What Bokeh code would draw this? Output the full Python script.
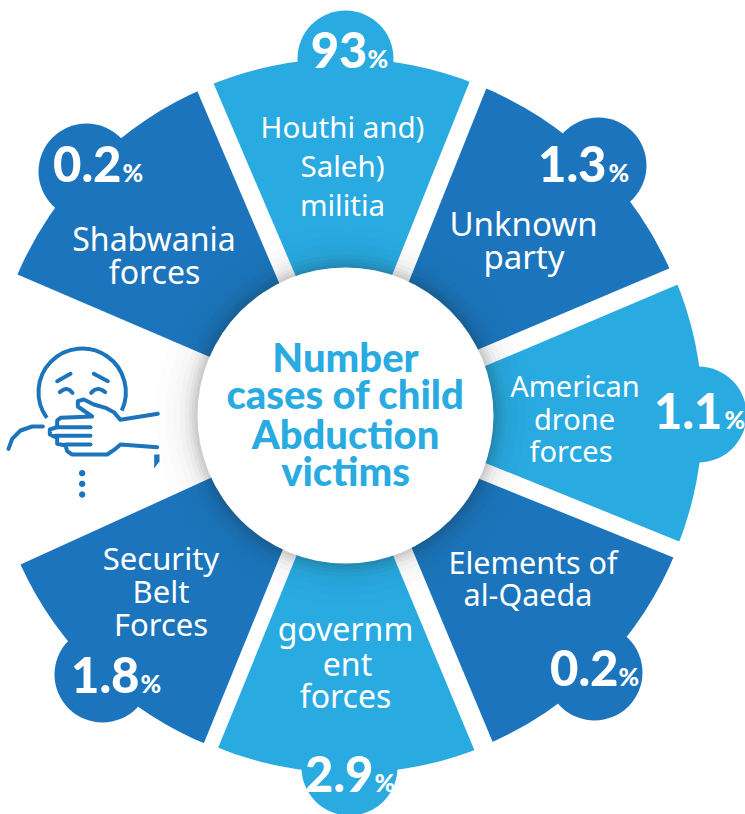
import numpy as np
from bokeh.plotting import figure
from bokeh.models import Range1d
from bokeh.core.properties import value
from bokeh.embed import file_html
from bokeh.resources import INLINE

# ---- data ----
categories = [["Houthi and)", "Saleh)", "militia"], ["Unknown", "party"], ["American", "drone", "forces"],
              ["Elements of", "al-Qaeda"], ["governm", "ent", "forces"], ["Security", "Belt", "Forces"],
              ["Shabwania", "forces"]]
percent_values = ["93", "1.3", "1.1", "0.2", "2.9", "1.8", "0.2"]
title_lines = ["Number", "cases of child", "Abduction", "victims"]

# ---- layout (reference pixels, y measured downward) ----
H = 814
LIGHT, DARK = "#29ABE2", "#1C75BC"
HUB, R_OUT, R_IN = (345, 415), 353, 148
sector_center = [(343.6, 411), (346.9, 412.5), (349.2, 415), (348, 419.2), (348.8, 419.5), (341.3, 417.8), (341.4, 413)]
sector_color = [LIGHT, DARK, LIGHT, DARK, LIGHT, DARK, DARK]
# midpoints of the white gaps on the outer rim, clockwise from upper-left of the first sector
gap_mid = [(205, 87), (477.5, 84.5), (673, 276), (676, 549), (483, 745.5), (210.5, 745), (20, 564), (17, 274)]
gap_width = [18, 18, 18, 17, 20, 15, 0, 0]
bump_xy = [(345, 58), (598, 165), (698, 414), (594, 672), (349, 767), (102, 674), (86, 171)]
bump_r = 48
num_right = [367, 606, 722, 618, 373, 139, 121]
pct_left = [367, 608, 724, 618, 374, 140, 122]
num_base = [69, 183, 430, 687, 793, 694, 183]
label_xs = [[342, 342, 342], [523, 523.5], [574.5, 574, 570.5], [532.5, 527.5], [345, 347, 345], [160.5, 160.5, 160.5], [153.5, 154]]
label_ys = [[126, 165, 204], [223, 256], [385, 418, 450], [561, 593], [628, 663, 695], [557, 590, 623], [238, 271]]
label_size = [29.5, 33, 29, 30.5, 32, 31, 32]
title_ys = [356, 393, 433, 470]
shadow_r = [190, 180, 172, 166, 161, 157, 154, 151]
shadow_a = [.008, .012, .016, .022, .03, .04, .05, .06]


def fy(y):
    return H - y


def ang(pt, c):
    return np.arctan2(c[1] - pt[1], pt[0] - c[0])


p = figure(width=745, height=814, x_range=Range1d(0, 745), y_range=Range1d(0, H),
           toolbar_location=None, output_backend="svg", min_border=0,
           outline_line_color=None, background_fill_color="white")
p.axis.visible = False
p.grid.visible = False

# each sector runs between the gap midpoints on either side of it (the ring starts at index 0 = top sector)
edge_pairs = [(0, 1), (1, 2), (2, 3), (3, 4), (4, 5), (5, 6), (7, 0)]
for (a, b), c, col in zip(edge_pairs, sector_center, sector_color):
    p.wedge(c[0], fy(c[1]), radius=R_OUT, start_angle=ang(gap_mid[b], c), end_angle=ang(gap_mid[a], c),
            direction="anticlock", color=col, line_color=None)
for (bx, by), col in zip(bump_xy, sector_color):
    p.circle(bx, fy(by), radius=bump_r, color=col, line_color=None)

# white gaps between the sectors
for g, w in zip(gap_mid, gap_width):
    if w:
        ex = HUB[0] + (g[0] - HUB[0]) * 1.06
        ey = HUB[1] + (g[1] - HUB[1]) * 1.06
        p.segment(HUB[0], fy(HUB[1]), ex, fy(ey), line_color="white", line_width=w)

# soft shadow and hub
for r, a in zip(shadow_r, shadow_a):
    p.circle(HUB[0], fy(HUB[1]), radius=r, color="#222222", alpha=a, line_color=None)
p.circle(HUB[0], fy(HUB[1]), radius=R_IN, color="white", line_color=None)


# icon (crop units: px = x / 3, py = 330 + y / 3)
def ix(a): return [v / 3 for v in a]
def iy(a): return [H - 330 - v / 3 for v in a]


strokes = [
    ([170, 210], [152, 130]), ([280, 322], [130, 152]),
    ([178, 188, 197, 207, 216], [185, 178, 175, 178, 187]), ([272, 282, 293, 304, 314], [187, 178, 175, 178, 185]),
    ([472, 360, 340, 315, 280, 250, 232, 232, 275, 180, 170, 170, 148, 148, 170, 170, 195, 200, 215, 320, 345, 360, 470],
     [250, 268, 245, 232, 222, 207, 212, 228, 258, 262, 270, 290, 297, 312, 322, 340, 345, 362, 372, 372, 355, 342, 350]),
    ([165, 270], [290, 290]), ([165, 270], [316, 316]), ([195, 270], [342, 342]),
    ([127, 95, 60, 35, 24], [288, 288, 300, 325, 355]),
]
p.multi_line([ix(s[0]) for s in strokes], [iy(s[1]) for s in strokes], line_color=DARK, line_width=4,
             line_cap="round", line_join="round")
p.arc(245 / 3, H - 330 - 185 / 3, radius=131 / 3, start_angle=np.radians(-25), end_angle=np.radians(216),
      line_color=DARK, line_width=4)
p.scatter(ix([245, 245, 245]), iy([428, 460, 492]), size=5.5, color=DARK)
p.patch(ix([461, 477, 477, 461]), iy([372, 372, 392, 414]), color=DARK, line_color=None)

# sector labels
for lines, xs, ys, s in zip(categories, label_xs, label_ys, label_size):
    p.text(xs, [fy(y) for y in ys], text=lines, text_align="center", text_baseline="middle",
           text_color="white", text_font=value("Noto Sans"), text_font_size=f"{s}px")

# percentages: number and % share a baseline, placed by their middles
for v, x, x2, y in zip(percent_values, num_right, pct_left, num_base):
    p.text([x], [fy(y - 20)], text=[v], text_align="right", text_baseline="middle", text_color="white",
           text_font=value("Lato Black"), text_font_size="49px")
    p.text([x2], [fy(y - 11.5)], text=["%"], text_align="left", text_baseline="middle", text_color="white",
           text_font=value("Lato Black"), text_font_size="25px")

# hub title
p.text([345] * 4, [fy(y) for y in title_ys], text=title_lines, text_align="center", text_baseline="middle",
       text_color=LIGHT, text_font=value("Lato Black"), text_font_size="40px")

open("out.html", "w").write(file_html(p, INLINE))
